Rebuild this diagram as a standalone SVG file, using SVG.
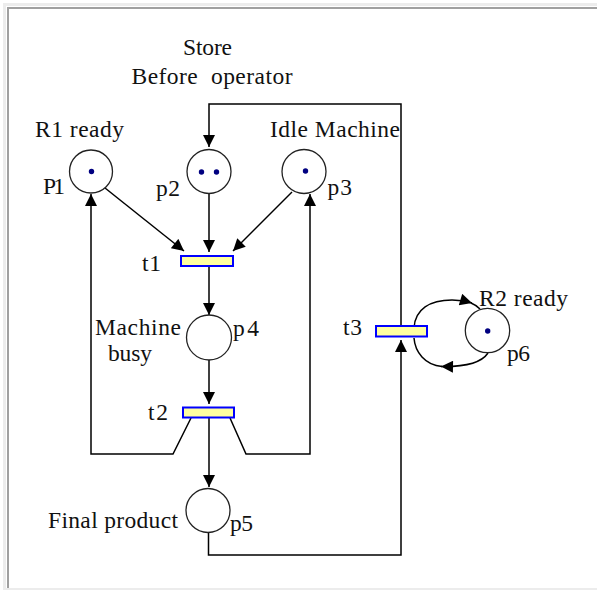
<svg xmlns="http://www.w3.org/2000/svg" width="597" height="590" viewBox="0 0 597 590">
<style>
.lbl{font-family:"Liberation Serif","Times New Roman",serif;font-size:23.5px;fill:#111}
.pl{fill:#fff;stroke:#222;stroke-width:1.3}
.tr{fill:#ffffa0;stroke:#0000ff;stroke-width:2}
.tok{fill:#000080}
.cn{fill:none;stroke:#000;stroke-width:1.5}
</style>
<defs>
<marker id="ah" viewBox="0 0 10 10" refX="10" refY="5" markerWidth="13" markerHeight="12" markerUnits="userSpaceOnUse" orient="auto">
<path d="M0,0 L10,5 L0,10 z" fill="#000"/>
</marker>
</defs>
<g id="frame">
<rect x="3" y="3" width="594" height="587" fill="#ececec"/>
<rect x="6" y="6" width="591" height="582" fill="#fff"/>
<path d="M8,588 L8,8 L597,8" fill="none" stroke="#a0a0a0" stroke-width="2"/>
</g>
<g id="connectors">
<path class="cn" d="M105,188 L184,251" marker-end="url(#ah)"/>
<path class="cn" d="M209,193 L209,252" marker-end="url(#ah)"/>
<path class="cn" d="M292,192 L233,251" marker-end="url(#ah)"/>
<path class="cn" d="M209,266 L209,315" marker-end="url(#ah)"/>
<path class="cn" d="M209,360 L209,404" marker-end="url(#ah)"/>
<path class="cn" d="M191,418 L173,454 L91,454 L91,194" marker-end="url(#ah)"/>
<path class="cn" d="M230,418 L246,454 L310,454 L310,194" marker-end="url(#ah)"/>
<path class="cn" d="M209,418 L209,487" marker-end="url(#ah)"/>
<path class="cn" d="M208.5,532.5 L208.5,555 L401,555 L401,340" marker-end="url(#ah)"/>
<path class="cn" d="M401,326 L401,104 L209,104 L209,147" marker-end="url(#ah)"/>
<path class="cn" d="M414,328 C415,309 430,300 452,300 Q462,300 472,303" marker-end="url(#ah)"/>
<path class="cn" d="M471,303 Q476,305 480,309"/>
<path class="cn" d="M488,353 C482,362 468,367 441,366.5" marker-end="url(#ah)"/>
<path class="cn" d="M442,366.5 C425,365 415,352 414,338"/>
</g>
<g id="p1">
<circle class="pl" cx="91" cy="171.5" r="21.5"/>
<circle class="tok" cx="91.5" cy="171.5" r="2.7"/>
<text class="lbl" x="35" y="137" textLength="89" lengthAdjust="spacing">R1 ready</text>
<text class="lbl" x="43" y="194" textLength="22" lengthAdjust="spacing">P1</text>
</g>
<g id="p2">
<circle class="pl" cx="209" cy="171.5" r="22"/>
<circle class="tok" cx="201.5" cy="172" r="2.7"/>
<circle class="tok" cx="216.5" cy="172" r="2.7"/>
<text class="lbl" x="183" y="55" textLength="49" lengthAdjust="spacing">Store</text>
<text class="lbl" x="131.5" y="84" textLength="161" lengthAdjust="spacing" xml:space="preserve">Before  operator</text>
<text class="lbl" x="156" y="196" textLength="24" lengthAdjust="spacing">p2</text>
</g>
<g id="p3">
<circle class="pl" cx="304" cy="171.5" r="22"/>
<circle class="tok" cx="305.5" cy="171" r="2.7"/>
<text class="lbl" x="270" y="137" textLength="130" lengthAdjust="spacing">Idle Machine</text>
<text class="lbl" x="327.5" y="195" textLength="24.5" lengthAdjust="spacing">p3</text>
</g>
<g id="t1">
<rect class="tr" x="181" y="256" width="52" height="10"/>
<text class="lbl" x="142" y="271" textLength="19" lengthAdjust="spacing">t1</text>
</g>
<g id="p4">
<circle class="pl" cx="209" cy="337.5" r="22.5"/>
<text class="lbl" x="95" y="334.5" textLength="86" lengthAdjust="spacing">Machine</text>
<text class="lbl" x="108" y="361" textLength="44" lengthAdjust="spacing">busy</text>
<text class="lbl" x="233" y="336" textLength="26" lengthAdjust="spacing">p4</text>
</g>
<g id="t2">
<rect class="tr" x="183" y="407.5" width="51" height="10"/>
<text class="lbl" x="148" y="420" textLength="20" lengthAdjust="spacing">t2</text>
</g>
<g id="p5">
<circle class="pl" cx="208" cy="510.5" r="22"/>
<text class="lbl" x="48" y="528" textLength="130" lengthAdjust="spacing">Final product</text>
<text class="lbl" x="230" y="531" textLength="23" lengthAdjust="spacing">p5</text>
</g>
<g id="t3">
<rect class="tr" x="376" y="326" width="51" height="10.5"/>
<text class="lbl" x="343" y="335" textLength="19" lengthAdjust="spacing">t3</text>
</g>
<g id="p6">
<circle class="pl" cx="487.5" cy="330.5" r="22.2"/>
<circle class="tok" cx="487.7" cy="331" r="2.7"/>
<text class="lbl" x="479" y="306" textLength="89" lengthAdjust="spacing">R2 ready</text>
<text class="lbl" x="507" y="361" textLength="23" lengthAdjust="spacing">p6</text>
</g>
</svg>
